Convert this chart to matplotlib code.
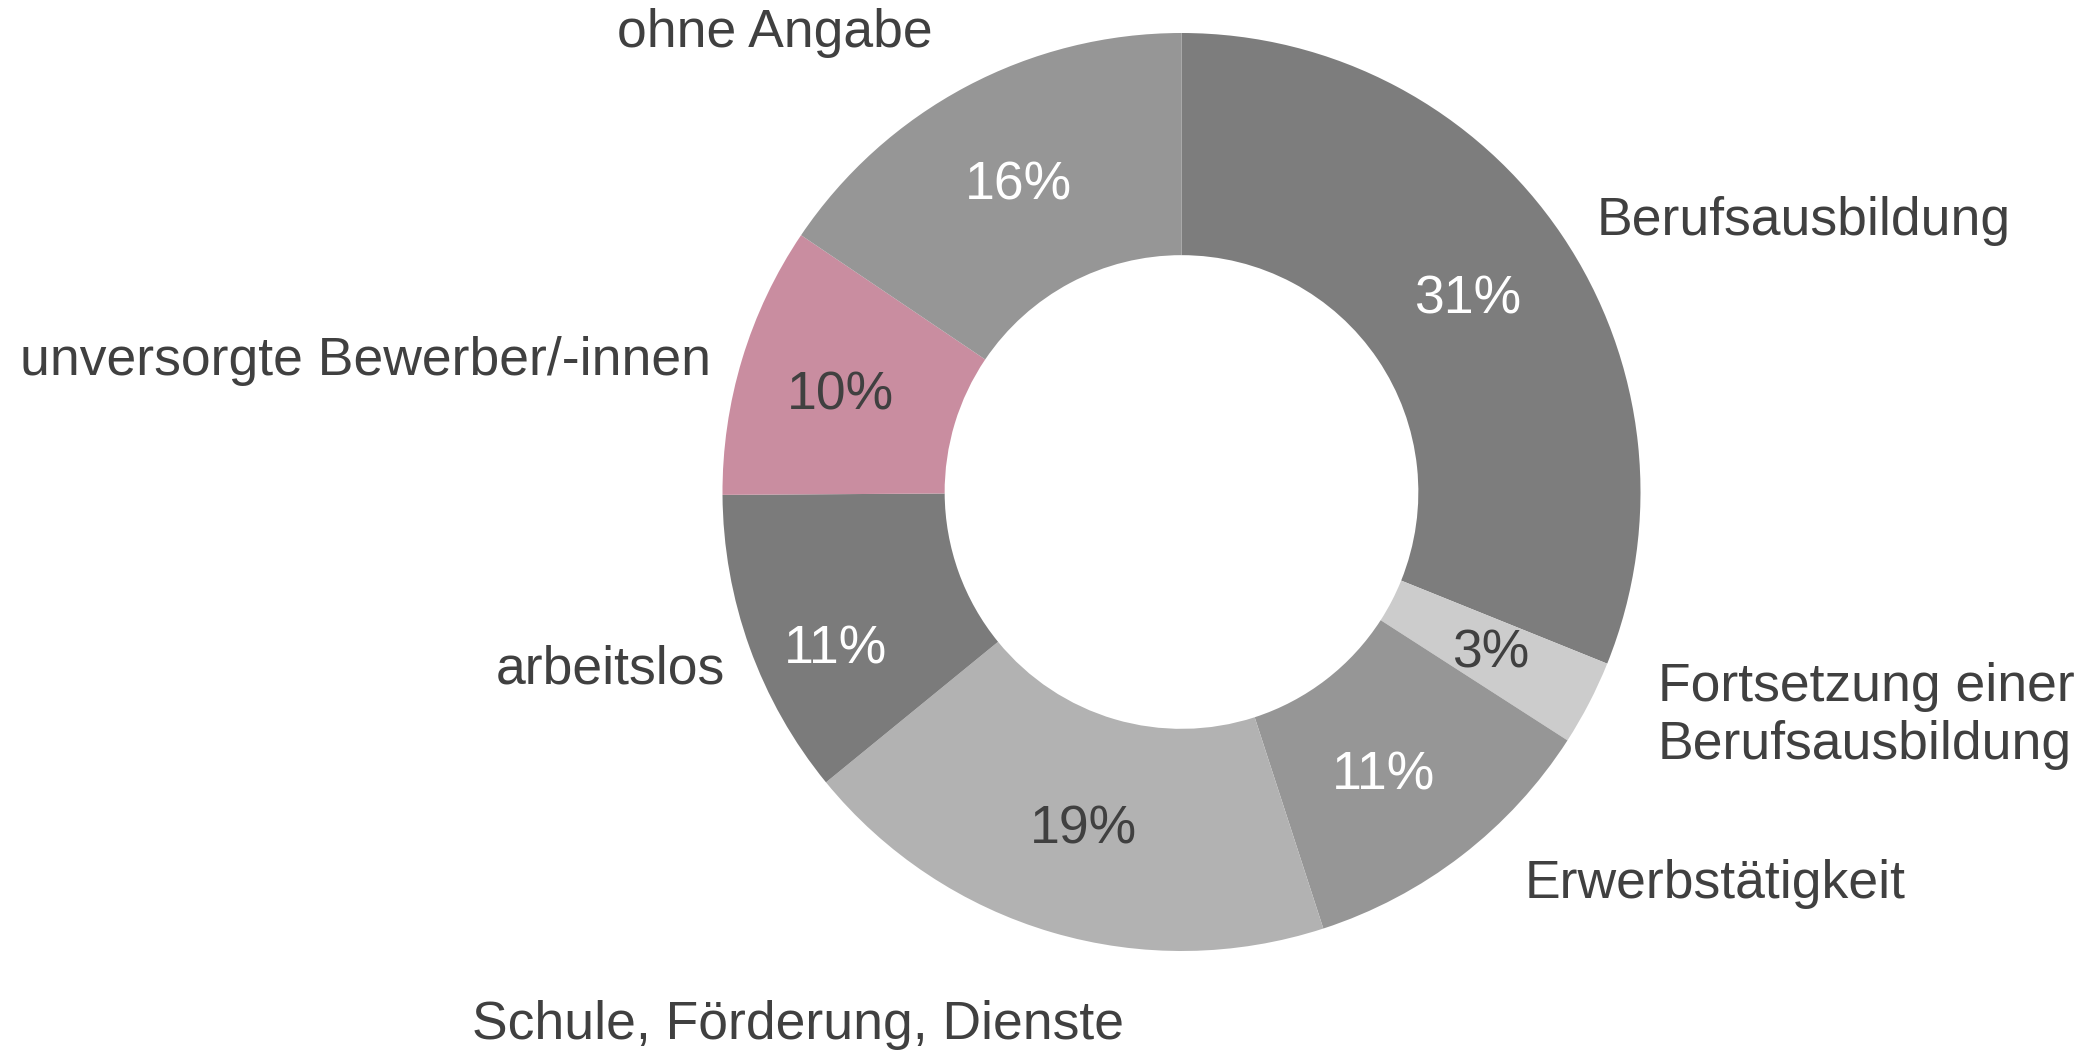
import matplotlib.pyplot as plt

# Verbleib nach Kategorie (Anteile in %), im Uhrzeigersinn ab 12 Uhr
categories = ['Berufsausbildung', 'Fortsetzung einer\nBerufsausbildung', 'Erwerbstätigkeit',
              'Schule, Förderung, Dienste', 'arbeitslos', 'unversorgte Bewerber/-innen',
              'ohne Angabe']
shares = [31.1, 3.0, 10.9, 19.1, 10.8, 9.55, 15.55]

colors = ['#7d7d7d', '#cccccc', '#969696', '#b2b2b2', '#7b7b7b', '#c98da0', '#969696']
pct_colors = ['white', '#404040', 'white', '#404040', 'white', '#404040', 'white']

# Beschriftung außen: (x, y-Grundlinie der letzten Zeile in Pixel von oben, Ausrichtung)
label_pos = [(1597, 235, 'left'), (1658, 759, 'left'), (1715, 898, 'center'),
             (798, 1039, 'center'), (610, 684, 'center'), (366, 375, 'center'),
             (775, 47, 'center')]
# Prozentwerte: Mittelpunkt in Pixel von oben
pct_pos = [(1468, 300), (1491, 654), (1384, 775), (1083, 829),
           (836, 650), (840, 395), (1018, 185)]

W, H = 2083, 1055
plt.rcParams['font.family'] = ['Liberation Sans', 'DejaVu Sans']
fig = plt.figure(figsize=(W / 100, H / 100), dpi=100)
ax = fig.add_axes([0, 0, 1, 1])

R = 459
wedges, _, pcts = ax.pie(shares, colors=colors, startangle=90, counterclock=False,
                         center=(1181.5, H - 492), radius=R,
                         wedgeprops=dict(width=0.484 * R, linewidth=0),
                         autopct=lambda p: '%d%%' % int(p + 0.5),
                         textprops=dict(fontsize=38.5), frame=True)
ax.set_xlim(0, W)
ax.set_ylim(0, H)
ax.set_aspect('equal')
ax.axis('off')
for t, c, (x, y) in zip(pcts, pct_colors, pct_pos):
    t.set_color(c)
    t.set_position((x, H - y))
    t.set_va('center')

for name, (x, y, ha) in zip(categories, label_pos):
    ax.text(x, H - y, name, fontsize=38.5, color='#404040', ha=ha, va='baseline',
            linespacing=1.2, multialignment='left')

fig.savefig('out.png', dpi=100, facecolor='white')
